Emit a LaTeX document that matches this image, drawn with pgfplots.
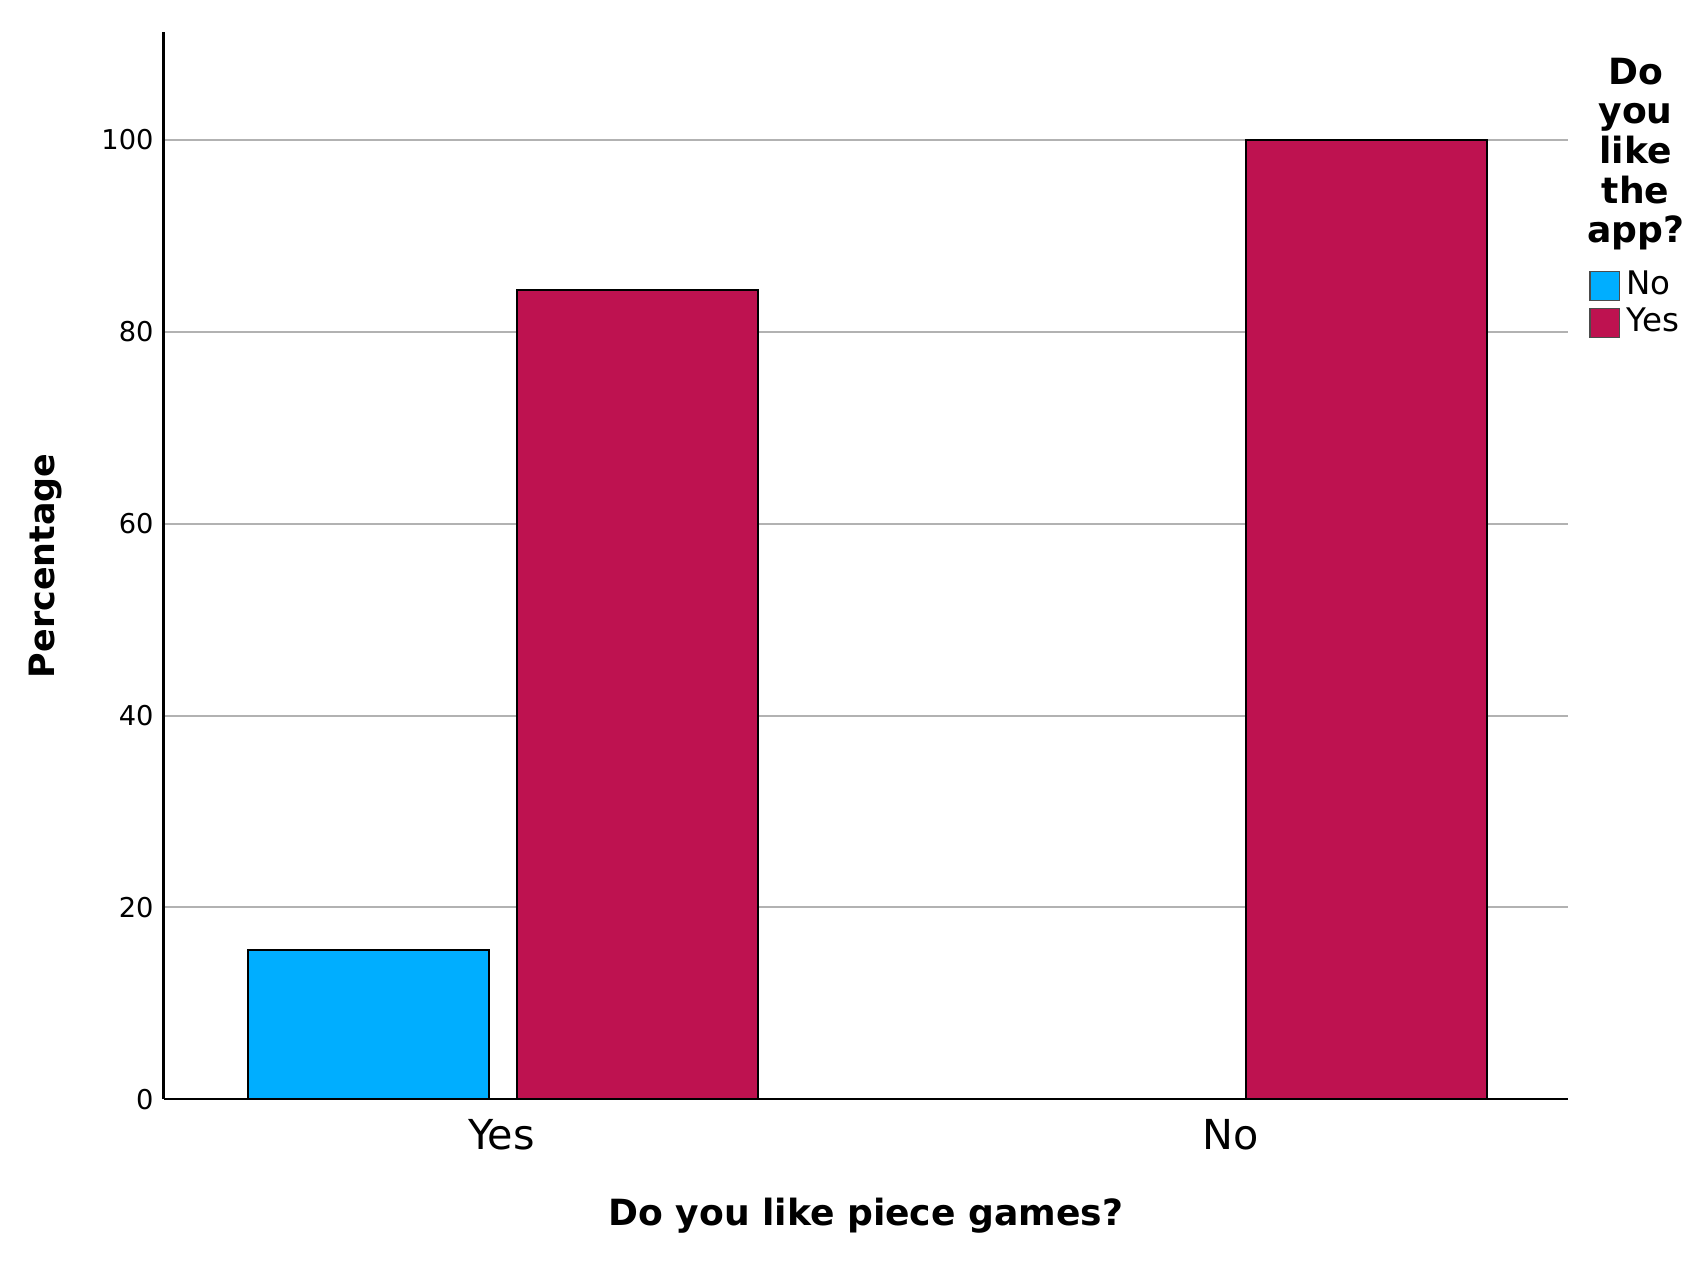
\documentclass[border=0pt]{standalone}
\usepackage{fontspec}
\setmainfont{DejaVu Sans}
\usepackage{pgfplots}
\pgfplotsset{compat=1.18}

\definecolor{barNo}{RGB}{0,174,255}
\definecolor{barYes}{RGB}{190,18,80}
\definecolor{gridgray}{RGB}{178,178,178}

\begin{document}
\begin{tikzpicture}
\path[use as bounding box] (-40.8pt,-41.3pt) rectangle (382.6pt,274.1pt);
\begin{axis}[
  scale only axis, width=350.2pt, height=266pt,
  xmin=-0.4636, xmax=1.4636, ymin=0, ymax=111.2,
  axis x line=bottom, axis y line=left,
  axis line style={-, line width=0.6pt, black},
  xtick={0,1}, xticklabels={Yes,No},
  ytick={0,20,40,60,80,100},
  major tick length=0pt,
  ymajorgrids=true,
  grid style={gridgray, line width=0.5pt},
  /pgf/number format/assume math mode=true,
  yticklabel style={font=\fontsize{6.8}{8}\selectfont, xshift=1pt},
  xticklabel style={font=\fontsize{10.3}{12}\selectfont, yshift=-1.4pt},
  xlabel={Do you like piece games?},
  ylabel={Percentage},
  xlabel style={font=\bfseries\fontsize{9}{11}\selectfont, at={(rel axis cs:0.5,0)}, anchor=center, yshift=-29pt},
  ylabel style={font=\bfseries\fontsize{8.7}{11}\selectfont, at={(rel axis cs:-0.084,0.5)}, anchor=center},
  legend image code/.code={\draw[#1, draw=black!70, line width=0.3pt] (0pt,-3.65pt) rectangle (7.3pt,3.65pt); \path (8.3pt,0pt);},
  legend style={at={(rel axis cs:1.0146,0.745)}, anchor=west, draw=none, fill=none,
    font=\fontsize{8.1}{9}\selectfont, inner sep=0pt, row sep=0.6pt,
    nodes={inner sep=0.6pt}},
  legend cell align=left,
  clip=false,
]
\addplot[ybar, bar width=0.331, bar shift=-0.182, fill=barNo, draw=black, line width=0.5pt]
  coordinates {(0,15.6)};
\addlegendentry{No}
\addplot[ybar, bar width=0.331, bar shift=0.187, fill=barYes, draw=black, line width=0.5pt]
  coordinates {(0,84.4) (1,100)};
\addlegendentry{Yes}
\node[anchor=north, align=center, inner sep=0pt, font=\bfseries\fontsize{9}{9.9}\selectfont]
  at (rel axis cs:1.048,0.977) {Do\\you\\like\\the\\app?};
\end{axis}
\end{tikzpicture}
\end{document}
